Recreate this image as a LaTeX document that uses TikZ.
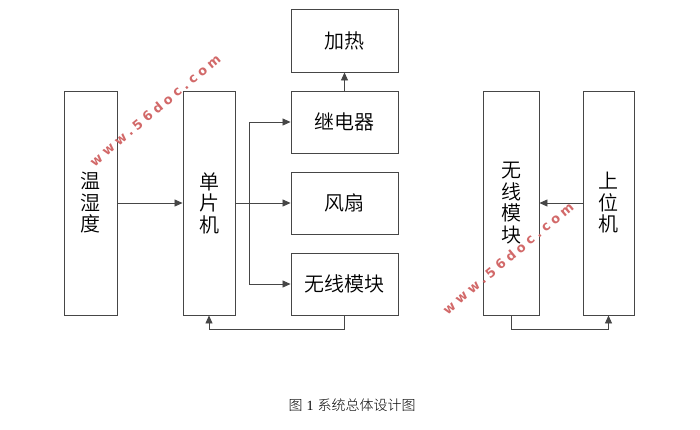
\documentclass[tikz,border=0pt]{standalone}
\usepackage{fontspec}
\setmainfont{Liberation Serif}
\newfontfamily\cjk{Noto Sans CJK SC DemiLight}
\newfontfamily\cjklight{Noto Sans CJK SC Light}
\newfontfamily\wmfont[LetterSpace=30]{DejaVu Sans Bold}
\usetikzlibrary{arrows.meta}
\definecolor{linegray}{RGB}{70,70,70}
\definecolor{wmred}{RGB}{210,105,105}
\begin{document}
\begin{tikzpicture}[x=1pt,y=-1pt,
  blk/.style={draw=linegray,line width=0.9pt,inner sep=0pt,align=center,font=\cjk\fontsize{20}{21.5}\selectfont},
  conn/.style={draw=linegray,line width=0.8pt,-{Triangle[length=8pt,width=7pt]}},
  wm/.style={text=wmred,font=\wmfont\fontsize{13}{14}\selectfont,rotate=40}]
\useasboundingbox (0,0) rectangle (700,429);
\fill[white] (0,0) rectangle (700,429);
% left diagram
\node[blk,minimum width=53pt,minimum height=224pt] (th) at (90.5,203) {温\\湿\\度};
\node[blk,minimum width=52pt,minimum height=224pt] (mcu) at (209,203) {单\\片\\机};
\node[blk,minimum width=107pt,minimum height=63pt] (heat) at (344.5,40.5) {加热};
\node[blk,minimum width=107pt,minimum height=62pt] (relay) at (344.5,122) {继电器};
\node[blk,minimum width=107pt,minimum height=62pt] (fan) at (344.5,203) {风扇};
\node[blk,minimum width=107pt,minimum height=62pt] (wl) at (344.5,284) {无线模块};
\coordinate (br) at (249,203);
\draw[conn] (th) -- (mcu);
\draw[draw=linegray,line width=0.8pt] (mcu.east) -- (br);
\draw[conn] (br) -- (fan);
\draw[conn] (br) |- (relay);
\draw[conn] (br) |- (wl);
\draw[conn] (relay) -- (heat);
\coordinate (fb) at (344.5,329);
\draw[conn] (wl.south) -- (fb) -| (mcu.south);
% right diagram
\node[blk,minimum width=56pt,minimum height=224pt] (wl2) at (511,203) {无\\线\\模\\块};
\node[blk,minimum width=51pt,minimum height=224pt] (pc) at (608.5,203) {上\\位\\机};
\draw[conn] (pc) -- (wl2);
\coordinate (fb2) at (511,329);
\draw[conn] (wl2.south) -- (fb2) -| (pc.south);
% caption
\node[font=\cjklight\fontsize{14}{15}\selectfont] (cap) at (352,405) {图\hspace{4pt}{\rmfamily 1}\hspace{4pt}系统总体设计图};
% watermarks
\node[wm] (wm1) at (155,110) {www.56doc.com};
\node[wm] (wm2) at (508,258) {www.56doc.com};
\end{tikzpicture}
\end{document}
